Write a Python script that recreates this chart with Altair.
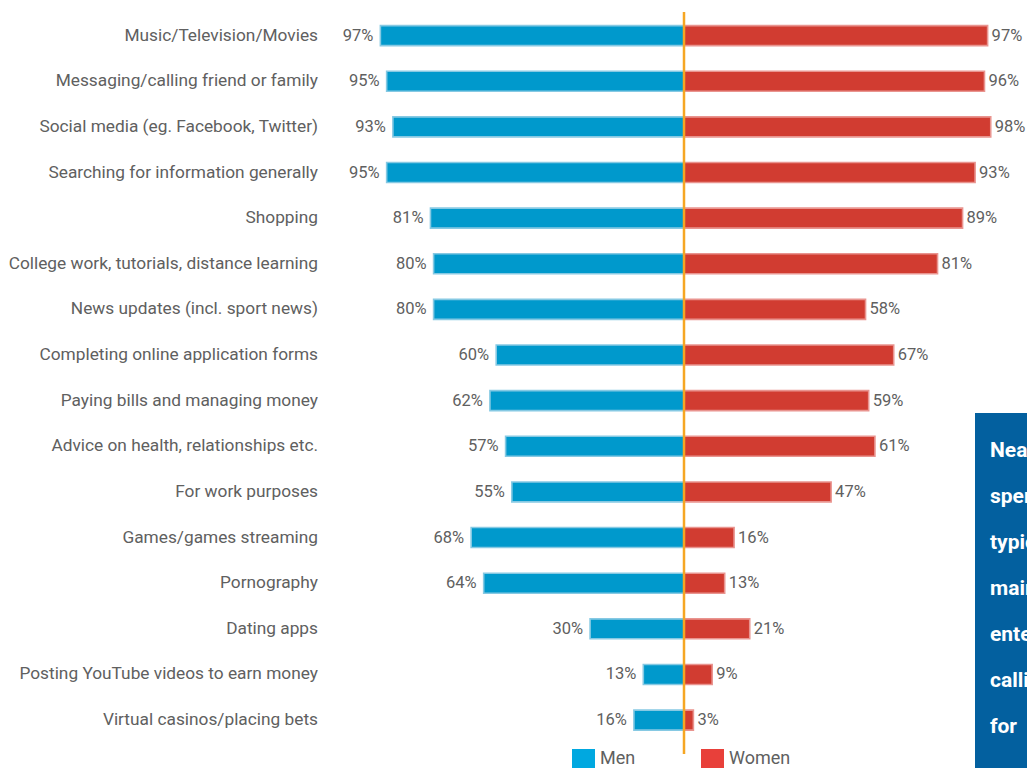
import altair as alt
import pandas as pd

categories = [
    "Music/Television/Movies",
    "Messaging/calling friend or family",
    "Social media (eg. Facebook, Twitter)",
    "Searching for information generally",
    "Shopping",
    "College work, tutorials, distance learning",
    "News updates (incl. sport news)",
    "Completing online application forms",
    "Paying bills and managing money",
    "Advice on health, relationships etc.",
    "For work purposes",
    "Games/games streaming",
    "Pornography",
    "Dating apps",
    "Posting YouTube videos to earn money",
    "Virtual casinos/placing bets",
]
men = [97, 95, 93, 95, 81, 80, 80, 60, 62, 57, 55, 68, 64, 30, 13, 16]
women = [97, 96, 98, 93, 89, 81, 58, 67, 59, 61, 47, 16, 13, 21, 9, 3]
series = ["Men", "Women"]
box_lines = ["Nearly", "spend", "typically", "mainly", "entertainment", "calling", "for"]

bar_fill = ["#0099cc", "#d13c31"]
bar_stroke = ["#86c9e3", "#e9948f"]
legend_fill = ["#00a8e0", "#e8403a"]
label_color = "#606060"

W, H = 1019, 760
X0 = 676.0
K = 3.13
dom = [-X0 / K, (W - X0) / K]

rows = []
for c, m, w in zip(categories, men, women):
    rows.append({"cat": c, "sex": "Men", "x": -m, "lab": f"{m}%"})
    rows.append({"cat": c, "sex": "Women", "x": w, "lab": f"{w}%"})
df = pd.DataFrame(rows)

xscale = alt.Scale(domain=dom, nice=False, zero=False)
xenc = alt.X("x:Q", scale=xscale, axis=None)
yenc = alt.Y("cat:N", sort=categories,
             scale=alt.Scale(domain=categories, range=[4.8, 734.9],
                             paddingInner=0.562, paddingOuter=0.281),
             axis=None)

base = alt.Chart(df)

bars = base.mark_bar(strokeWidth=1.6).encode(
    x=xenc,
    x2=alt.datum(0),
    y=yenc,
    color=alt.Color("sex:N", scale=alt.Scale(domain=series, range=bar_fill), legend=None),
    stroke=alt.Stroke("sex:N", scale=alt.Scale(domain=series, range=bar_stroke), legend=None),
)

men_lab = base.transform_filter(alt.datum.sex == "Men").mark_text(
    align="right", baseline="middle", dx=-7, fontSize=16.5, color=label_color
).encode(x=xenc, y=yenc, text="lab:N")

women_lab = base.transform_filter(alt.datum.sex == "Women").mark_text(
    align="left", baseline="middle", dx=4, fontSize=16.5, color=label_color
).encode(x=xenc, y=yenc, text="lab:N")

cat_lab = base.transform_filter(alt.datum.sex == "Men").mark_text(
    align="right", baseline="middle", fontSize=17.3, color=label_color
).encode(x=alt.value(310), y=yenc, text="cat:N")

zero_df = pd.DataFrame({"z": [0]})
rule = alt.Chart(zero_df).mark_rule(color="#f6a623", strokeWidth=2.5).encode(
    x=alt.X("z:Q", scale=xscale, axis=None),
    y=alt.value(4), y2=alt.value(746),
)

leg_df = pd.DataFrame({"sex": series})
legend_layers = []
leg_pos = [(564, 592), (693, 721)]
for i, s in enumerate(series):
    sq = alt.Chart(leg_df).transform_filter(alt.datum.sex == s).mark_rect(
        color=legend_fill[i]
    ).encode(
        x=alt.value(leg_pos[i][0]), x2=alt.value(leg_pos[i][0] + 23),
        y=alt.value(741), y2=alt.value(760),
    )
    tx = alt.Chart(leg_df).transform_filter(alt.datum.sex == s).mark_text(
        align="left", baseline="middle", fontSize=18, color=label_color
    ).encode(x=alt.value(leg_pos[i][1]), y=alt.value(751), text="sex:N")
    legend_layers += [sq, tx]

box_df = pd.DataFrame({"t": ["\n".join(box_lines)]})
box = alt.Chart(box_df).mark_rect(color="#03609f").encode(
    x=alt.value(967), x2=alt.value(W), y=alt.value(405), y2=alt.value(H)
)
box_text = alt.Chart(box_df).mark_text(
    align="left", baseline="alphabetic", fontSize=21, fontWeight="bold",
    color="white", lineBreak="\n", lineHeight=46
).encode(x=alt.value(982), y=alt.value(449), text="t:N")

chart = alt.layer(
    bars, rule, men_lab, women_lab, cat_lab, *legend_layers, box, box_text
).properties(
    width=W, height=H, padding=0, autosize="none", background="white"
).configure(font="Roboto").configure_view(stroke=None)

chart.save("out.html", embed_options={"renderer": "svg", "actions": False})
